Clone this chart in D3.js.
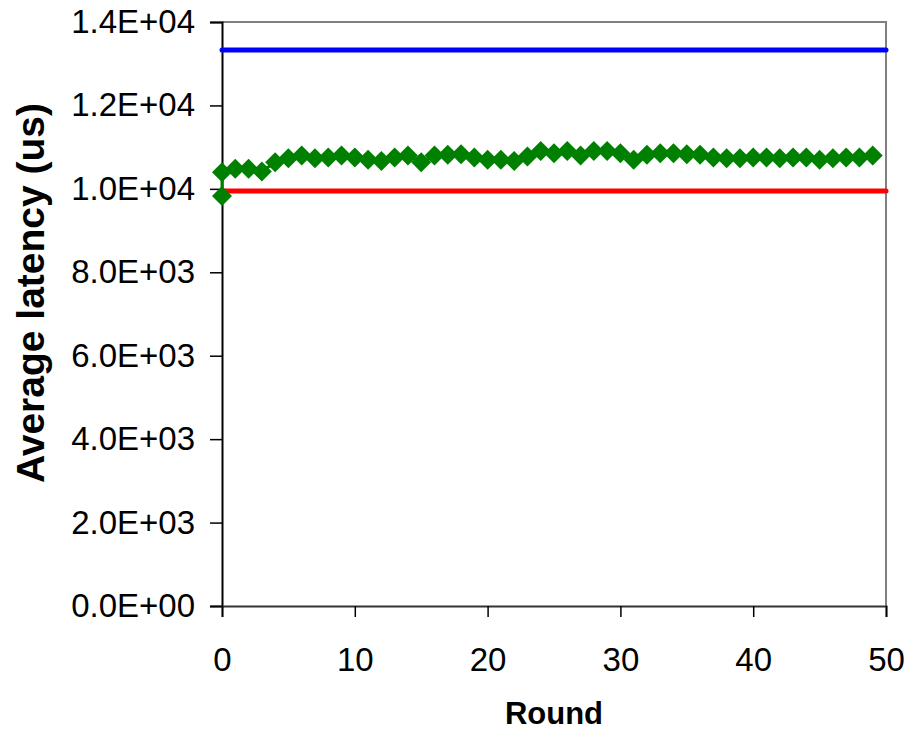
<!DOCTYPE html>
<html>
<head>
<meta charset="utf-8">
<script src="https://cdn.jsdelivr.net/npm/d3@7"></script>
<style>
  body { margin: 0; background: #fff; }
  svg { display: block; font-family: "Liberation Sans", Arial, sans-serif; }
</style>
</head>
<body>
<svg width="907" height="732"></svg>
<script>
// average latency per round (green diamonds)
var rounds = [0, 0, 1, 2, 3, 4, 5, 6, 7, 8, 9, 10, 11, 12, 13, 14, 15, 16, 17, 18, 19, 20,
  21, 22, 23, 24, 25, 26, 27, 28, 29, 30, 31, 32, 33, 34, 35, 36, 37, 38, 39, 40,
  41, 42, 43, 44, 45, 46, 47, 48, 49];
var latency = [9830, 10400, 10480, 10480, 10415, 10640, 10735, 10800, 10735, 10750, 10800,
  10750, 10695, 10670, 10750, 10800, 10640, 10800, 10815, 10830, 10750, 10695,
  10695, 10670, 10775, 10910, 10855, 10910, 10800, 10910, 10910, 10855, 10695,
  10815, 10855, 10855, 10830, 10815, 10750, 10735, 10735, 10750, 10750, 10735,
  10750, 10750, 10695, 10735, 10750, 10750, 10800];
// reference levels
var upperLevel = 13330;
var lowerLevel = 9950;
var yTicks = [0, 2000, 4000, 6000, 8000, 10000, 12000, 14000];
var xTicks = [0, 10, 20, 30, 40, 50];

var svg = d3.select("svg"),
  margin = {top: 22, right: 21, bottom: 126, left: 222},
  width = 907 - margin.left - margin.right,
  height = 732 - margin.top - margin.bottom,
  g = svg.append("g").attr("transform", "translate(" + margin.left + "," + margin.top + ")");

var x = d3.scaleLinear().domain([0, 50]).range([0, width]);
var y = d3.scaleLinear().domain([0, 14000]).range([height, 0]);

// frame: top and right in grey
g.append("path")
  .attr("d", "M0,0H" + width + "V" + height)
  .attr("fill", "none")
  .attr("stroke", "#808080")
  .attr("stroke-width", 2);

function expFormat(v) {
  if (v === 0) return "0.0E+00";
  var e = Math.floor(Math.log10(v));
  var m = v / Math.pow(10, e);
  return m.toFixed(1) + "E+" + (e < 10 ? "0" : "") + e;
}

var yAxis = g.append("g")
  .call(d3.axisLeft(y).tickValues(yTicks).tickFormat(expFormat).tickSize(12).tickPadding(15));
yAxis.select(".domain").attr("stroke", "#000").attr("stroke-width", 2);
yAxis.selectAll(".tick line").attr("stroke", "#000").attr("stroke-width", 1.5);
yAxis.selectAll(".tick text").attr("font-size", 33).attr("fill", "#000");

var xAxis = g.append("g")
  .attr("transform", "translate(0," + height + ")")
  .call(d3.axisBottom(x).tickValues(xTicks).tickSize(11).tickPadding(31));
xAxis.select(".domain").attr("stroke", "#333").attr("stroke-width", 2);
xAxis.selectAll(".tick line").attr("stroke", "#000").attr("stroke-width", 1.5);
xAxis.selectAll(".tick text").attr("font-size", 33).attr("fill", "#000");

// horizontal reference lines
[[upperLevel, "#0000ff"], [lowerLevel, "#ff0000"]].forEach(function(d) {
  g.append("line")
    .attr("x1", x(0)).attr("x2", x(50))
    .attr("y1", y(d[0])).attr("y2", y(d[0]))
    .attr("stroke", d[1])
    .attr("stroke-width", 5)
    .attr("stroke-linecap", "round");
});

var pts = rounds.map(function(r, i) { return [r, latency[i]]; });

g.append("path")
  .datum(pts)
  .attr("fill", "none")
  .attr("stroke", "#008000")
  .attr("stroke-width", 3)
  .attr("d", d3.line().x(function(d) { return x(d[0]); }).y(function(d) { return y(d[1]); }));

var s = 10;
g.selectAll(".marker")
  .data(pts)
  .enter().append("path")
    .attr("class", "marker")
    .attr("fill", "#008000")
    .attr("d", function(d) {
      var cx = x(d[0]), cy = y(d[1]);
      return "M" + cx + "," + (cy - s) + "L" + (cx + s) + "," + cy +
        "L" + cx + "," + (cy + s) + "L" + (cx - s) + "," + cy + "Z";
    });

svg.append("text")
  .attr("transform", "translate(44,293) rotate(-90)")
  .attr("text-anchor", "middle")
  .attr("font-size", 39)
  .attr("font-weight", "bold")
  .text("Average latency (us)");

svg.append("text")
  .attr("x", margin.left + width / 2)
  .attr("y", 724)
  .attr("text-anchor", "middle")
  .attr("font-size", 31)
  .attr("font-weight", "bold")
  .text("Round");
</script>
</body>
</html>
